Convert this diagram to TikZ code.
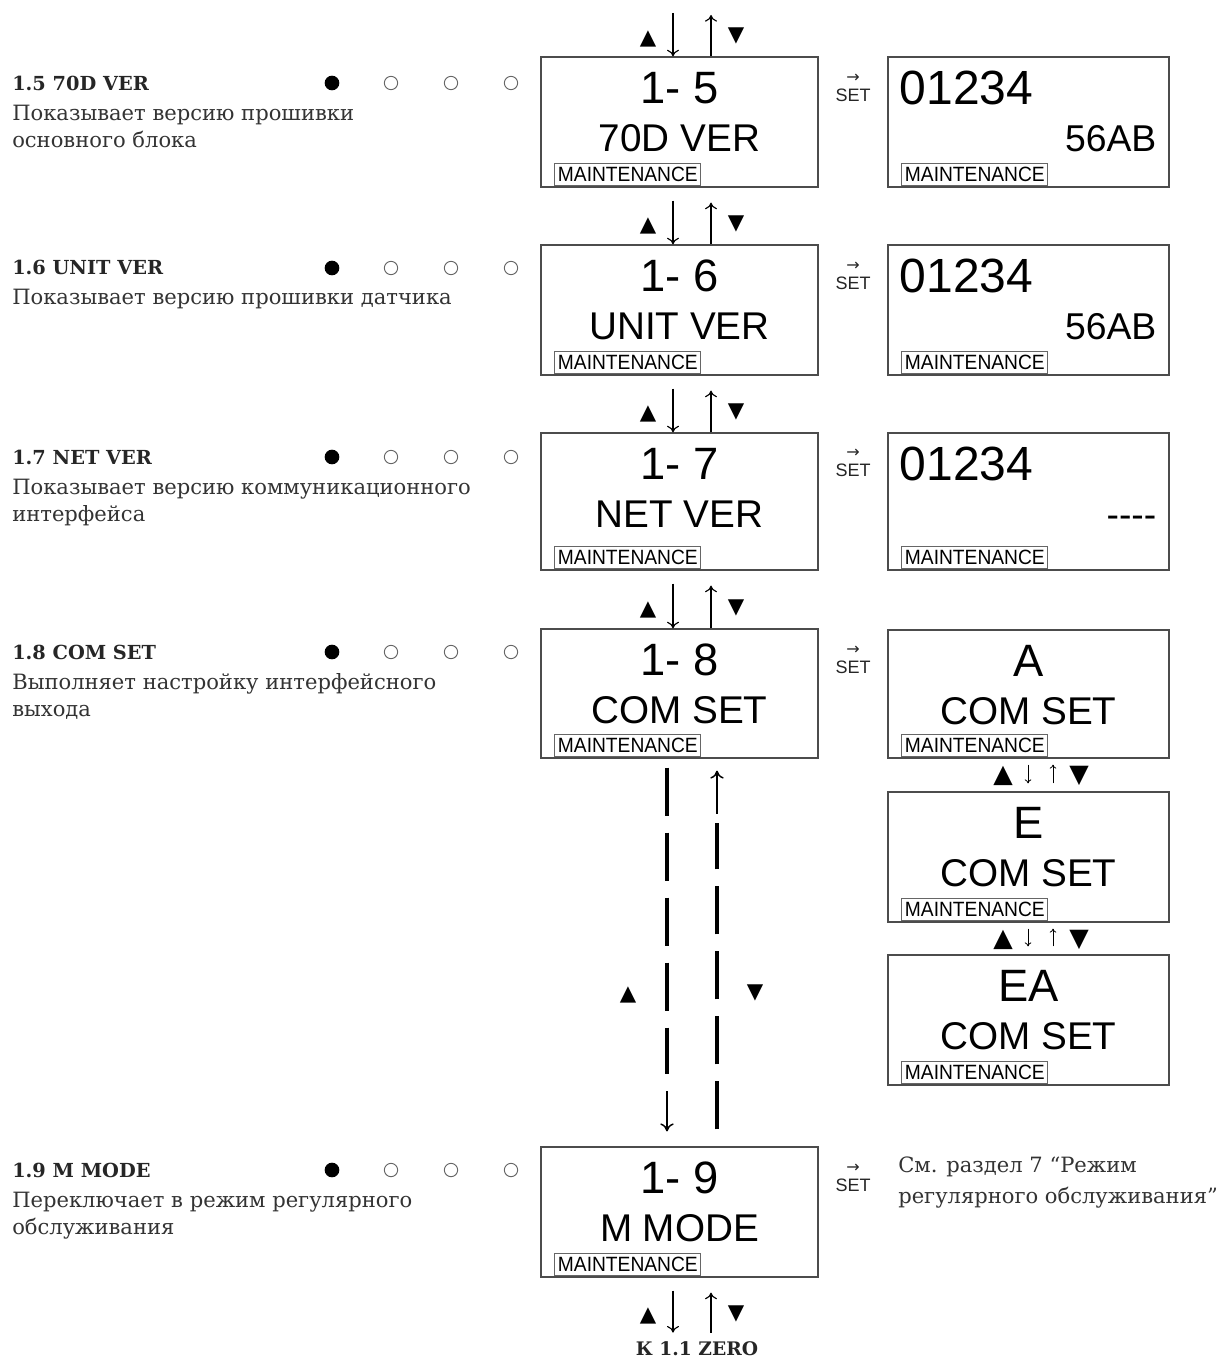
\documentclass[tikz,border=0pt]{standalone}
\usepackage{fontspec}
\usepackage{graphicx}
\setmainfont{DejaVu Serif}
\newfontfamily\lcdfont{Liberation Sans}
\newfontfamily\symfont{DejaVu Sans}
\usetikzlibrary{arrows.meta,calc}

\tikzset{
  lcd/.style={draw=black!70, line width=0.9pt, minimum width=207.75pt, inner sep=0pt},
  lcdr/.style={lcd, minimum width=210.75pt},
  bigtxt/.style={font=\lcdfont\fontsize{34pt}{34pt}\selectfont, inner sep=0pt, anchor=base},
  numtxt/.style={font=\lcdfont\fontsize{36pt}{36pt}\selectfont, inner sep=0pt, anchor=base west},
  midtxt/.style={font=\lcdfont\fontsize{29pt}{29pt}\selectfont, inner sep=0pt, anchor=base},
  sidetxt/.style={font=\lcdfont\fontsize{28pt}{28pt}\selectfont, inner sep=0pt, anchor=base east},
  mnt/.style={draw=black!60, line width=0.7pt, font=\lcdfont\fontsize{15.5pt}{15.5pt}\selectfont,
    inner sep=0pt, minimum width=109.5pt, minimum height=16.5pt, anchor=south west},
  title/.style={font=\bfseries\fontsize{14.5pt}{14.5pt}\selectfont, inner sep=0pt, anchor=base west, text=black!85},
  desc/.style={font=\fontsize{15.8pt}{15.8pt}\selectfont, inner sep=0pt, anchor=base west, text=black!80},
  tri/.style={font=\symfont\fontsize{16pt}{16pt}\selectfont, inner sep=0pt},
  tribig/.style={font=\symfont\fontsize{19pt}{19pt}\selectfont, inner sep=0pt},
  arr/.style={line width=0.85pt, -{To[length=5pt,width=9pt]}},
  arrsmall/.style={line width=0.6pt, -{To[length=3pt,width=5pt]}},
  dline/.style={line width=2.6pt, dash pattern=on 36pt off 12.75pt},
  darr/.style={line width=1.1pt, -{To[length=6pt,width=10pt]}},
  setlbl/.style={font=\lcdfont\fontsize{13.5pt}{13.5pt}\selectfont, inner sep=0pt, text=black!85},
  setarr/.style={font=\symfont\fontsize{12pt}{12pt}\selectfont, inner sep=0pt, text=black!85},
  dotf/.style={circle, fill=black, minimum size=11pt, inner sep=0pt},
  doto/.style={circle, draw=black!60, line width=0.7pt, minimum size=10pt, inner sep=0pt},
}

% #1 name, #2 centre x, #3 top y, #4 height (px), #5 line 1, #6 line 2, #7 box style
\newcommand{\lcdbox}[7]{%
  \node[#7, minimum height=#4*0.75pt] (#1) at (#2,#3+#4/2) {};
  \node[bigtxt] (#1a) at ($(#1.north)+(0,47)$) {#5};
  \node[midtxt] (#1b) at ($(#1.north)+(0,95)$) {#6};
  \node[mnt] (#1m) at ($(#1.south west)+(14,-2)$) {\scalebox{0.93}[1]{MAINTENANCE}};
}
% #1 name, #2 top y, #3 height, #4 line 2
\newcommand{\numbox}[4]{%
  \node[lcdr, minimum height=#3*0.75pt] (#1) at (1028.5,#2+#3/2) {};
  \node[numtxt] (#1a) at ($(#1.north west)+(12,48)$) {01234};
  \node[sidetxt] (#1b) at ($(#1.north east)+(-13,95)$) {#4};
  \node[mnt] (#1m) at ($(#1.south west)+(14,-2)$) {\scalebox{0.93}[1]{MAINTENANCE}};
}
% #1 name, #2 y
\newcommand{\dotrow}[2]{%
  \node[dotf] (#1f) at (332,#2) {};
  \node[doto] (#1o) at (391,#2) {};
  \node[doto] (#1p) at (451,#2) {};
  \node[doto] (#1q) at (511,#2) {};
}
% #1 name, #2 y
\newcommand{\setrow}[2]{%
  \node[setlbl] (#1) at (853,#2) {SET};
  \node[setarr] (#1r) at (853,#2-17) {→};
}
% #1 upper box, #2 lower box
\newcommand{\navpair}[2]{%
  \draw[arr] ($(#1.south -| xd)+(0,13)$) -- (#2.north -| xd);
  \draw[arr] (#2.north -| xu) -- ($(#1.south -| xu)+(0,15)$);
  \node[tri] (#2up) at ($(#2.north -| tl)+(0,-18)$) {▲};
  \node[tri] (#2dn) at ($(#2.north -| tr)+(0,-20)$) {▼};
}
% small navigation between right boxes
\newcommand{\navsmall}[2]{%
  \draw[arrsmall] ($(#1.south -| sd)+(0,6)$) -- ($(#2.north -| sd)+(0,-8)$);
  \draw[arrsmall] ($(#2.north -| su)+(0,-8)$) -- ($(#1.south -| su)+(0,6)$);
  \node[tribig] (#2up) at ($(#1.south -| sl)+(0,17)$) {▲};
  \node[tribig] (#2dn) at ($(#1.south -| sr)+(0,17)$) {▼};
}

\begin{document}
\begin{tikzpicture}[x=0.75pt, y=-0.75pt]
\useasboundingbox (0,0) rectangle (1223,1359);
\fill[white] (0,0) rectangle (1223,1359);

\coordinate (xd) at (673,0);
\coordinate (xu) at (711,0);
\coordinate (xdd) at (667,0);
\coordinate (xdu) at (717,0);
\coordinate (tl) at (648,0);
\coordinate (tr) at (736,0);
\coordinate (sd) at (1028,0);
\coordinate (su) at (1053,0);
\coordinate (sl) at (1003,0);
\coordinate (sr) at (1079,0);

% ---------- left column of displays
\lcdbox{b15}{679.5}{57}{130}{1- 5}{70D VER}{lcd}
\lcdbox{b16}{679.5}{245}{130}{1- 6}{UNIT VER}{lcd}
\lcdbox{b17}{679.5}{433}{137}{1- 7}{NET VER}{lcd}
\lcdbox{b18}{679.5}{629}{129}{1- 8}{COM SET}{lcd}
\lcdbox{b19}{679.5}{1147}{130}{1- 9}{M MODE}{lcd}

% ---------- right column of displays
\numbox{r15}{57}{130}{56AB}
\numbox{r16}{245}{130}{56AB}
\numbox{r17}{433}{137}{----}
\lcdbox{rA}{1028.5}{630}{128}{A}{COM SET}{lcdr}
\lcdbox{rE}{1028.5}{792}{130}{E}{COM SET}{lcdr}
\lcdbox{rEA}{1028.5}{955}{130}{EA}{COM SET}{lcdr}

% ---------- navigation arrows
\coordinate (top5d) at (673,13);
\coordinate (top5u) at (711,15);
\draw[arr] (top5d) -- (b15.north -| xd);
\draw[arr] (b15.north -| xu) -- (top5u);
\node[tri] (b15up) at ($(b15.north -| tl)+(0,-17)$) {▲};
\node[tri] (b15dn) at ($(b15.north -| tr)+(0,-20)$) {▼};

\navpair{b15}{b16}
\navpair{b16}{b17}
\navpair{b17}{b18}

% dashed long jump between 1-8 and 1-9
\draw[dline, shorten <=6.75pt, shorten >=54pt] (b18.south -| xdd) -- (b19.north -| xdd);
\draw[darr] ($(b19.north -| xdd)+(0,-55)$) -- ($(b19.north -| xdd)+(0,-15)$);
\draw[dline, shorten <=12.75pt, shorten >=48pt] (b19.north -| xdu) -- (b18.south -| xdu);
\draw[darr] ($(b18.south -| xdu)+(0,55)$) -- ($(b18.south -| xdu)+(0,12)$);
\node[tri] (b19up) at (628,995) {▲};
\node[tri] (b19dn) at (755,993) {▼};

\draw[arr] ($(b19.south -| xd)+(0,13)$) -- ($(b19.south -| xd)+(0,55)$);
\draw[arr] ($(b19.south -| xu)+(0,55)$) -- ($(b19.south -| xu)+(0,15)$);
\node[tri] (botup) at ($(b19.south -| tl)+(0,38)$) {▲};
\node[tri] (botdn) at ($(b19.south -| tr)+(0,36)$) {▼};
\node[font=\bfseries\fontsize{14pt}{14pt}\selectfont, inner sep=0pt, anchor=base, text=black!85] (zero) at (697,1355) {К 1.1 ZERO};

\navsmall{rA}{rE}
\navsmall{rE}{rEA}

% ---------- SET labels
\setrow{set15}{95}
\setrow{set16}{283}
\setrow{set17}{470}
\setrow{set18}{667}
\setrow{set19}{1185}

% ---------- dots
\dotrow{d15}{83}
\dotrow{d16}{268}
\dotrow{d17}{457}
\dotrow{d18}{652}
\dotrow{d19}{1170}

% ---------- left texts
\node[title] (t15) at (12,91) {1.5 70D VER};
\node[desc] (t15a) at (12,121) {Показывает версию прошивки};
\node[desc] (t15b) at (12,148) {основного блока};

\node[title] (t16) at (12,274) {1.6 UNIT VER};
\node[desc] (t16a) at (12,304) {Показывает версию прошивки датчика};

\node[title] (t17) at (12,464) {1.7 NET VER};
\node[desc] (t17a) at (12,494) {Показывает версию коммуникационного};
\node[desc] (t17b) at (12,521) {интерфейса};

\node[title] (t18) at (12,659) {1.8 COM SET};
\node[desc] (t18a) at (12,689) {Выполняет настройку интерфейсного};
\node[desc] (t18b) at (12,716) {выхода};

\node[title] (t19) at (12,1177) {1.9 M MODE};
\node[desc] (t19a) at (12,1207) {Переключает в режим регулярного};
\node[desc] (t19b) at (12,1234) {обслуживания};

\node[desc] (n19a) at (898,1172) {См. раздел 7 “Режим};
\node[desc] (n19b) at (898,1203) {регулярного обслуживания”};
\end{tikzpicture}
\end{document}
